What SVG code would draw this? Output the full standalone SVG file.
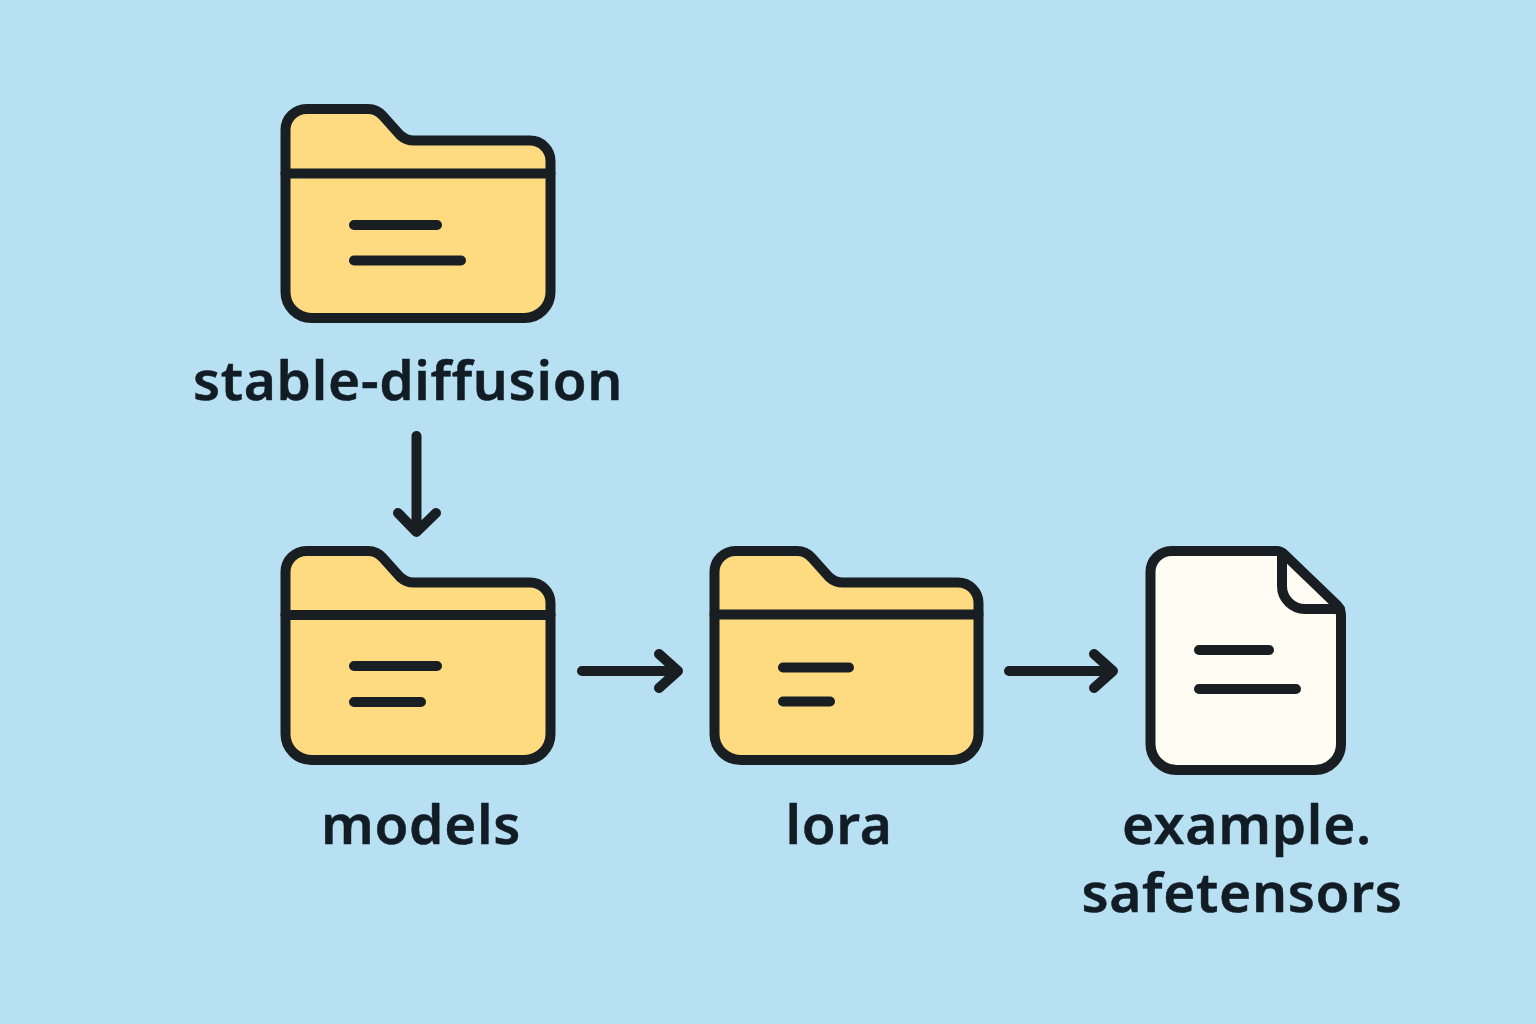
<svg xmlns="http://www.w3.org/2000/svg" width="1536" height="1024" viewBox="0 0 1536 1024">
<style>
.o{stroke:#191e22;stroke-width:10;stroke-linecap:round;stroke-linejoin:round;fill:none}
.f{fill:#fedb80}
.d{fill:#fffcf3}
.t{font-family:"Noto Sans",sans-serif;font-weight:600;font-size:55px;letter-spacing:.7px;fill:#121c25;stroke:#121c25;stroke-width:.5px;text-anchor:middle;font-variant-ligatures:none}
</style>
<rect width="1536" height="1024" fill="#b8e0f3"/>
<g id="stable-diffusion">
<path class="o f" d="M285.500 130A21 21 0 0 1 306.500 109H367A20 20 0 0 1 383 116L400 135Q406 140.500 414 140.500H530A20.500 20.500 0 0 1 550.500 161V292A26 26 0 0 1 524.500 318H311.500A26 26 0 0 1 285.500 292Z"/>
<path class="o" d="M285.500 173.500H550.500M354 225H437M354 260.500H461"/>
<text class="t" x="408" y="400">stable-diffusion</text>
</g>
<g id="models">
<path class="o f" d="M285.500 572A21 21 0 0 1 306.500 551H367A20 20 0 0 1 383 558L400 577Q406 582.500 414 582.500H530A20.500 20.500 0 0 1 550.500 603V734A26 26 0 0 1 524.500 760H311.500A26 26 0 0 1 285.500 734Z"/>
<path class="o" d="M285.500 615H550.500M354 666H437M354 702H421"/>
<text class="t" x="421" y="844">models</text>
</g>
<g id="lora">
<path class="o f" d="M714.500 572A21 21 0 0 1 735.500 551H796A20 20 0 0 1 812 558L829 577Q835 582.500 843 582.500H958A20.500 20.500 0 0 1 978.500 603V734A26 26 0 0 1 952.500 760H740.500A26 26 0 0 1 714.500 734Z"/>
<path class="o" d="M714.500 614.500H978.500M783 667.500H849M783 701.500H830"/>
<text class="t" x="839" y="844">lora</text>
</g>
<g id="example-safetensors">
<path class="o d" d="M1150.500 572A21 21 0 0 1 1171.500 551H1276A12 12 0 0 1 1285 555L1337 605Q1341 609 1341 616V744A26 26 0 0 1 1315 770H1176.500A26 26 0 0 1 1150.500 744Z"/>
<path class="o" d="M1282 553V586A23 23 0 0 0 1305 609H1340M1199 650H1269M1199 689H1296"/>
<text class="t" x="1247" y="844">example.</text>
<text class="t" x="1242" y="912">safetensors</text>
</g>
<g id="connectors">
<path class="o" d="M416.500 436V530M398 513L416.500 532L436 513"/>
<path class="o" d="M582 671H677M659 654L678 671L659 688"/>
<path class="o" d="M1009 671H1112M1094 654L1113 671L1094 688"/>
</g>
</svg>
